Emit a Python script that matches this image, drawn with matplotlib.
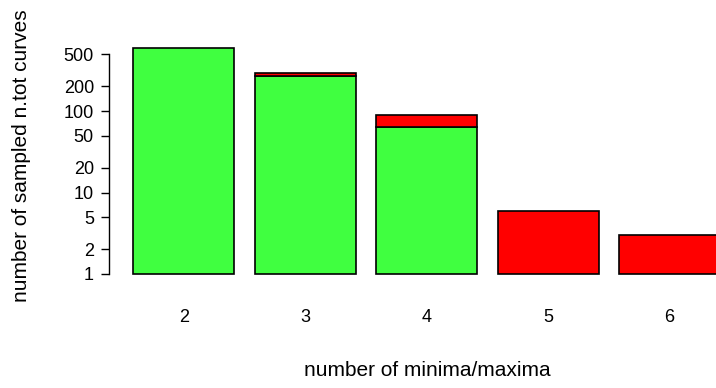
import numpy as np
import matplotlib as mpl
import matplotlib.pyplot as plt

mpl.rcParams['font.family'] = ['Liberation Sans', 'DejaVu Sans']
mpl.rcParams['font.size'] = 13

# counts of sampled curves per number of extrema
categories = ['2', '3', '4', '5', '6']
green_counts = [588, 270, 64, 0, 0]
red_counts = [0, 25, 25, 6, 3]

W, H, DPI = 716, 388, 100
fig = plt.figure(figsize=(W / DPI, H / DPI), dpi=DPI)

# R-style barplot geometry: width 1, space 0.2
px_per_unit = 101.25
x0_px = 112.75
ax_left, ax_bottom, ax_top = 108.5, 285, 40
ax = fig.add_axes([ax_left / W, 1 - ax_bottom / H, 1 - ax_left / W, (ax_bottom - ax_top) / H])

lefts = 0.2 + 1.2 * np.arange(len(categories))
centers = lefts + 0.5
green = np.array(green_counts, dtype=float)
red = np.array(red_counts, dtype=float)

ax.set_yscale('log')
base = 1.0
g_mask = green > 0
ax.bar(centers[g_mask], green[g_mask] - base, bottom=base, width=1.0,
       color='#40FF40', edgecolor='black', linewidth=1.2, zorder=2)
# red segment stacked on top of the green one (or on the baseline)
r_bottom = np.maximum(green, base)
r_top = green + red
r_mask = red > 0
ax.bar(centers[r_mask], (r_top - r_bottom)[r_mask], bottom=r_bottom[r_mask], width=1.0,
       color='#FF0000', edgecolor='black', linewidth=1.2, zorder=2)

ax.set_xlim((ax_left - x0_px) / px_per_unit, (W - x0_px) / px_per_unit)
# 81.5 px per decade, value 1 at y=274
ppd = 81.5
ax.set_ylim(10 ** (-(ax_bottom - 274) / ppd), 10 ** ((274 - ax_top) / ppd))

yticks = [1, 2, 5, 10, 20, 50, 100, 200, 500]
ax.yaxis.set_major_locator(mpl.ticker.FixedLocator(yticks))
ax.yaxis.set_major_formatter(mpl.ticker.FormatStrFormatter('%d'))
ax.yaxis.set_minor_locator(mpl.ticker.NullLocator())
ax.tick_params(axis='y', direction='out', length=5.5, width=1.0, pad=5, labelsize=13)

ax.set_xticks(centers)
ax.set_xticklabels(categories)
ax.tick_params(axis='x', length=0, pad=17, labelsize=13)

for s in ['top', 'right', 'bottom']:
    ax.spines[s].set_visible(False)
ax.spines['left'].set_bounds(1, 500)
ax.spines['left'].set_linewidth(1.0)
ax.patch.set_alpha(0)

fig.text(427 / W, 1 - 371 / H, 'number of minima/maxima', ha='center', va='center', fontsize=15)
fig.text(22 / W, 1 - 156 / H, 'number of sampled n.tot curves', ha='center', va='center',
         rotation=90, fontsize=15)

fig.savefig('out.png', dpi=DPI)
